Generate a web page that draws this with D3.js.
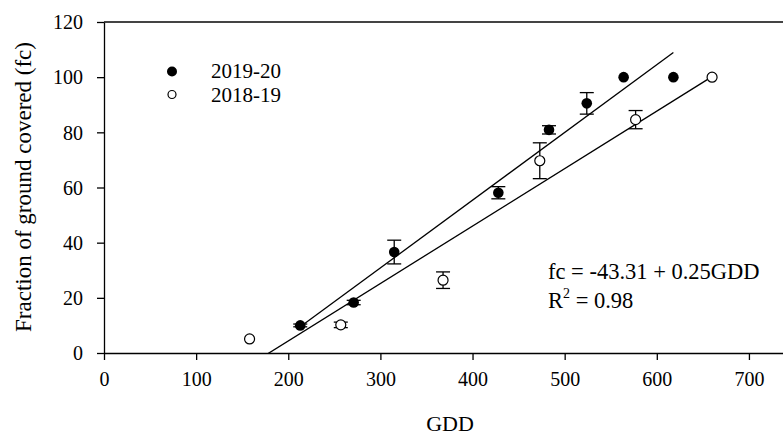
<!DOCTYPE html>
<html>
<head>
<meta charset="utf-8">
<script src="https://cdn.jsdelivr.net/npm/d3@7"></script>
<style>
  body { margin: 0; background: #fff; }
  svg text { font-family: "Liberation Serif", "Times New Roman", serif; fill: #000; }
</style>
</head>
<body>
<div id="chart"></div>
<script>
// values
const gdd2019 = [213, 271, 315, 428, 483, 524, 564, 618];
const fc2019  = [10, 18.3, 36.6, 58.1, 80.9, 90.5, 100, 100];
const err2019 = [0.5, 0.8, 4.3, 2.2, 1.5, 3.9, 0, 0];

const gdd2018 = [158, 257, 368, 473, 577, 660];
const fc2018  = [5.1, 10.2, 26.4, 69.7, 84.6, 100];
const err2018 = [0, 1, 3, 6.5, 3.3, 0];

// fitted lines (intercept, slope) as drawn
const fit2019 = [-42.8, 0.2455];
const fit2018 = [-37.3, 0.2083];

const xTicks = [0, 100, 200, 300, 400, 500, 600, 700];
const yTicks = [0, 20, 40, 60, 80, 100, 120];
const seriesNames = ["2019-20", "2018-19"];

const W = 783, H = 438;
const margin = {left: 104, top: 22};
const plotW = 691, plotH = 331;

const svg = d3.select('#chart')
  .append('svg')
  .attr('width', W)
  .attr('height', H);

const x = d3.scaleLinear().domain([0, 750]).range([margin.left, margin.left + plotW]);
const y = d3.scaleLinear().domain([0, 120]).range([margin.top + plotH, margin.top]);

svg.append('clipPath').attr('id', 'plotclip')
  .append('rect')
  .attr('x', margin.left).attr('y', margin.top)
  .attr('width', plotW).attr('height', plotH);

// top frame line
svg.append('line')
  .attr('x1', x(0)).attr('x2', x(750))
  .attr('y1', y(120)).attr('y2', y(120))
  .attr('stroke', '#444').attr('stroke-width', 2);

// axes
const gx = svg.append('g')
  .attr('transform', `translate(0, ${y(0)})`)
  .call(d3.axisBottom(x).tickValues(xTicks).tickSize(7).tickPadding(12).tickSizeOuter(0));
gx.selectAll('text').style('font-size', '20px');

const gy = svg.append('g')
  .attr('transform', `translate(${x(0)}, 0)`)
  .call(d3.axisLeft(y).tickValues(yTicks).tickSize(7).tickPadding(14).tickSizeOuter(0));
gy.selectAll('text').style('font-size', '20px').attr('dy', '0.34em');

svg.selectAll('.domain, .tick line').attr('stroke', '#000').attr('stroke-width', 1.3);

// axis titles
svg.append('text')
  .attr('x', 450).attr('y', 431)
  .attr('text-anchor', 'middle')
  .style('font-size', '22px')
  .text('GDD');

svg.append('text')
  .attr('transform', 'translate(31, 187) rotate(-90)')
  .attr('text-anchor', 'middle')
  .style('font-size', '23px')
  .text('Fraction of ground covered (fc)');

// regression lines
const plot = svg.append('g').attr('clip-path', 'url(#plotclip)');

function fitLine(fit, xs) {
  const x0 = d3.min(xs), x1 = d3.max(xs);
  plot.append('line')
    .attr('x1', x(x0)).attr('y1', y(fit[0] + fit[1] * x0))
    .attr('x2', x(x1)).attr('y2', y(fit[0] + fit[1] * x1))
    .attr('stroke', '#000').attr('stroke-width', 1.3);
}
fitLine(fit2019, gdd2019);
fitLine(fit2018, gdd2018);

// error bars
function errBars(xs, ys, es) {
  const data = xs.map((d, i) => ({gx: d, fc: ys[i], e: es[i]})).filter(d => d.e > 0);
  const g = svg.append('g').attr('stroke', '#000').attr('stroke-width', 1.3);
  g.selectAll('line.v').data(data).join('line')
    .attr('x1', d => x(d.gx)).attr('x2', d => x(d.gx))
    .attr('y1', d => y(d.fc - d.e)).attr('y2', d => y(d.fc + d.e));
  g.selectAll('line.t').data(data).join('line')
    .attr('x1', d => x(d.gx) - 7).attr('x2', d => x(d.gx) + 7)
    .attr('y1', d => y(d.fc + d.e)).attr('y2', d => y(d.fc + d.e));
  g.selectAll('line.b').data(data).join('line')
    .attr('x1', d => x(d.gx) - 7).attr('x2', d => x(d.gx) + 7)
    .attr('y1', d => y(d.fc - d.e)).attr('y2', d => y(d.fc - d.e));
}
errBars(gdd2019, fc2019, err2019);
errBars(gdd2018, fc2018, err2018);

// points
svg.selectAll('circle.s19')
  .data(gdd2019)
  .join('circle')
  .attr('cx', d => x(d))
  .attr('cy', (d, i) => y(fc2019[i]))
  .attr('r', 5.3)
  .style('fill', '#000');

svg.selectAll('circle.s18')
  .data(gdd2018)
  .join('circle')
  .attr('cx', d => x(d))
  .attr('cy', (d, i) => y(fc2018[i]))
  .attr('r', 5)
  .style('fill', '#fff')
  .style('stroke', '#000')
  .style('stroke-width', 1.2);

// legend
svg.append('circle').attr('cx', 172).attr('cy', 71.5).attr('r', 5).style('fill', '#000');
svg.append('circle').attr('cx', 172).attr('cy', 94.5).attr('r', 4)
  .style('fill', '#fff').style('stroke', '#000').style('stroke-width', 1.2);
svg.append('text').attr('x', 211).attr('y', 77.5).style('font-size', '21px').text(seriesNames[0]);
svg.append('text').attr('x', 211).attr('y', 101.5).style('font-size', '21px').text(seriesNames[1]);

// equation
svg.append('text').attr('x', 548).attr('y', 278.5).style('font-size', '22.5px')
  .text('fc = -43.31 + 0.25GDD');
const r2 = svg.append('text').attr('x', 548).attr('y', 307.5).style('font-size', '22.5px');
r2.append('tspan').text('R');
r2.append('tspan').attr('dy', -10).style('font-size', '14px').text('2');
r2.append('tspan').attr('dy', 10).text(' = 0.98');
</script>
</body>
</html>
